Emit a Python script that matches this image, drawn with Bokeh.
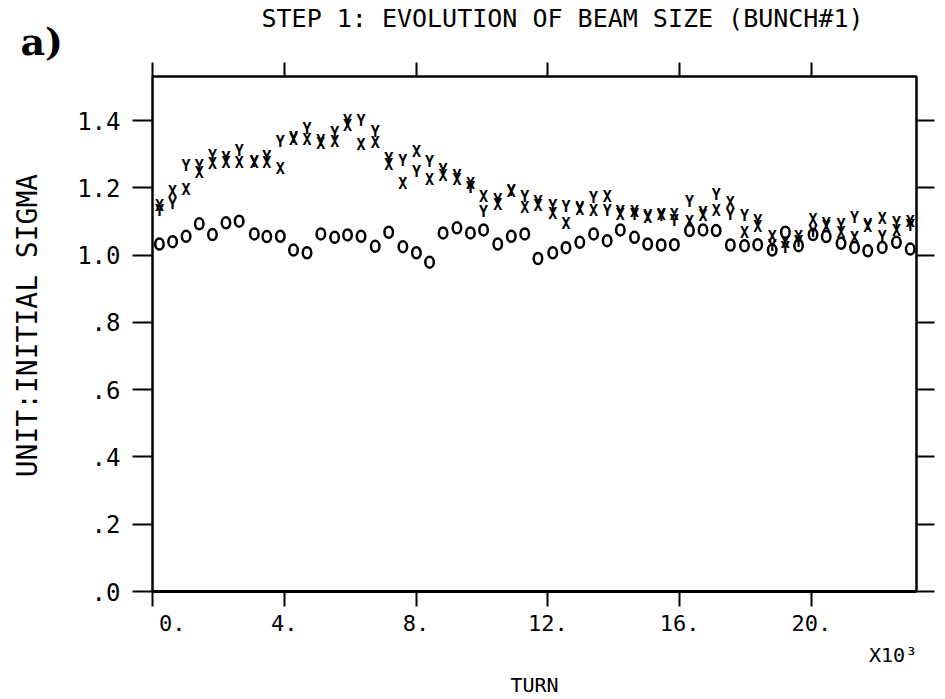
from bokeh.plotting import figure
from bokeh.models import ColumnDataSource, LinearAxis, FixedTicker, Range1d, Title
from bokeh.core.properties import value
from bokeh.embed import file_html
from bokeh.resources import INLINE

# turn (x10^3)
turn_k = [0.21, 0.61, 1.02, 1.42, 1.82, 2.23, 2.63, 3.09, 3.47, 3.88,
          4.28, 4.69, 5.11, 5.53, 5.92, 6.33, 6.76, 7.17, 7.60, 8.01,
          8.41, 8.82, 9.24, 9.65, 10.05, 10.48, 10.89, 11.30, 11.70, 12.15,
          12.55, 12.97, 13.39, 13.80, 14.20, 14.63, 15.03, 15.44, 15.84, 16.30,
          16.71, 17.11, 17.54, 17.97, 18.37, 18.81, 19.21, 19.61, 20.05, 20.45,
          20.90, 21.31, 21.71, 22.15, 22.58, 23.00]

sigma_x = [1.145, 1.187, 1.195, 1.245, 1.271, 1.275, 1.274, 1.275, 1.273, 1.257,
           1.341, 1.341, 1.330, 1.336, 1.385, 1.328, 1.333, 1.268, 1.212, 1.306,
           1.224, 1.235, 1.222, 1.212, 1.172, 1.150, 1.187, 1.140, 1.145, 1.123,
           1.093, 1.133, 1.132, 1.172, 1.120, 1.127, 1.110, 1.120, 1.120, 1.097,
           1.115, 1.132, 1.155, 1.065, 1.083, 1.053, 1.035, 1.053, 1.105, 1.083,
           1.065, 1.051, 1.083, 1.106, 1.073, 1.098]

sigma_y = [1.130, 1.152, 1.266, 1.265, 1.296, 1.288, 1.309, 1.278, 1.293, 1.336,
           1.347, 1.376, 1.338, 1.362, 1.400, 1.400, 1.366, 1.285, 1.281, 1.246,
           1.276, 1.252, 1.235, 1.200, 1.127, 1.165, 1.192, 1.172, 1.158, 1.147,
           1.142, 1.140, 1.169, 1.132, 1.127, 1.120, 1.117, 1.115, 1.101, 1.157,
           1.125, 1.180, 1.120, 1.115, 1.101, 1.028, 1.020, 1.040, 1.070, 1.093,
           1.090, 1.111, 1.090, 1.053, 1.095, 1.088]

sigma_o = [1.033, 1.040, 1.056, 1.093, 1.061, 1.096, 1.101, 1.063, 1.055, 1.056,
           1.015, 1.007, 1.063, 1.053, 1.060, 1.056, 1.026, 1.068, 1.025, 1.007,
           0.979, 1.066, 1.081, 1.066, 1.075, 1.033, 1.056, 1.063, 0.990, 1.007,
           1.022, 1.038, 1.063, 1.043, 1.075, 1.053, 1.033, 1.030, 1.031, 1.073,
           1.075, 1.073, 1.030, 1.028, 1.031, 1.015, 1.068, 1.028, 1.061, 1.055,
           1.035, 1.023, 1.013, 1.023, 1.038, 1.018]

x_ticks = [0, 4, 8, 12, 16, 20]
x_tick_labels = ["\u00a0\u00a0\u00a00.", "4.", "8.", "12.", "16.", "20."]
y_ticks = [0.0, 0.2, 0.4, 0.6, 0.8, 1.0, 1.2, 1.4]
y_tick_labels = [".0", ".2", ".4", ".6", ".8", "1.0", "1.2", "1.4"]
x_scale_pos = 22.48
x_scale_label = "X10\u00b3"

src = ColumnDataSource(dict(turn=turn_k, sx=sigma_x, sy=sigma_y, so=sigma_o))

MONO = "DejaVu Sans Mono"

p = figure(width=940, height=699,
           x_range=Range1d(0, 23.19), y_range=Range1d(0, 1.531),
           x_axis_type=None, y_axis_type=None,
           toolbar_location=None, output_backend="svg",
           min_border_left=152, min_border_right=24,
           min_border_top=76, min_border_bottom=108)
p.outline_line_color = "black"
p.outline_line_width = 2
p.background_fill_color = "white"
p.border_fill_color = "white"


def make_axis(ticks, overrides, show_labels, tick_out, standoff, width=2,
              font_size="20px"):
    ax = LinearAxis(ticker=FixedTicker(ticks=ticks),
                    major_label_overrides=overrides,
                    axis_line_width=width, axis_line_color="black",
                    major_tick_line_width=2, major_tick_line_color="black",
                    major_tick_in=0, major_tick_out=tick_out,
                    minor_tick_line_color=None,
                    major_label_text_font=MONO,
                    major_label_text_color="black",
                    major_label_standoff=standoff)
    if show_labels:
        ax.major_label_text_font_size = font_size
    else:
        ax.major_label_text_font_size = "0px"
        ax.major_label_text_alpha = 0
    return ax


x_over = {t: l for t, l in zip(x_ticks, x_tick_labels)}
y_over = {t: l for t, l in zip(y_ticks, y_tick_labels)}

# bottom: tick labels, then the x10^3 factor and the axis title
p.add_layout(make_axis(x_ticks, x_over, True, 15, 4, width=3,
                       font_size="22px"), "below")
scale_axis = LinearAxis(ticker=FixedTicker(ticks=[x_scale_pos]),
                        major_label_overrides={x_scale_pos: x_scale_label},
                        axis_line_color=None, major_tick_line_color=None,
                        major_tick_in=0, major_tick_out=0,
                        minor_tick_line_color=None,
                        major_label_text_font=MONO,
                        major_label_text_font_size="20px",
                        major_label_text_color="black",
                        major_label_standoff=4,
                        axis_label="TURN", axis_label_standoff=3,
                        axis_label_text_font=MONO,
                        axis_label_text_font_size="20px",
                        axis_label_text_font_style="normal",
                        axis_label_text_color="black")
p.add_layout(scale_axis, "below")

# top: ticks, then "a)" and the title
p.add_layout(make_axis(x_ticks, x_over, False, 14, 0), "above")
p.add_layout(Title(text="a)", align="left", offset=-132, standoff=-2,
                   text_font="DejaVu Serif", text_font_style="bold",
                   text_font_size="38px", text_color="black"), "above")
p.title.text = "STEP 1: EVOLUTION OF BEAM SIZE (BUNCH#1)"
p.title.align = "left"
p.title.offset = 109
p.title.standoff = -30
p.title.text_font = MONO
p.title.text_font_size = "25px"
p.title.text_font_style = "normal"
p.title.text_color = "black"

left_axis = make_axis(y_ticks, y_over, True, 20, 12, font_size="24px")
left_axis.axis_label = "\u00a0UNIT:INITIAL SIGMA"
left_axis.axis_label_standoff = 30
left_axis.axis_label_text_font = MONO
left_axis.axis_label_text_font_size = "28px"
left_axis.axis_label_text_font_style = "normal"
left_axis.axis_label_text_color = "black"
p.add_layout(left_axis, "left")
p.add_layout(make_axis(y_ticks, y_over, False, 18, 0), "right")

# markers
p.ellipse(x="turn", y="so", width=8.5, height=11, width_units="screen",
          height_units="screen", fill_color=None, line_color="black",
          line_width=2.5, source=src)
p.text(x="turn", y="sy", text=value("Y"), source=src,
       text_font=value(MONO), text_font_style="bold",
       text_font_size=value("15px"), text_align="center",
       text_baseline="middle", text_color="black")
p.text(x="turn", y="sx", text=value("X"), source=src,
       text_font=value(MONO), text_font_style="bold",
       text_font_size=value("15px"), text_align="center",
       text_baseline="middle", text_color="black")

open("out.html", "w").write(file_html(p, INLINE))
